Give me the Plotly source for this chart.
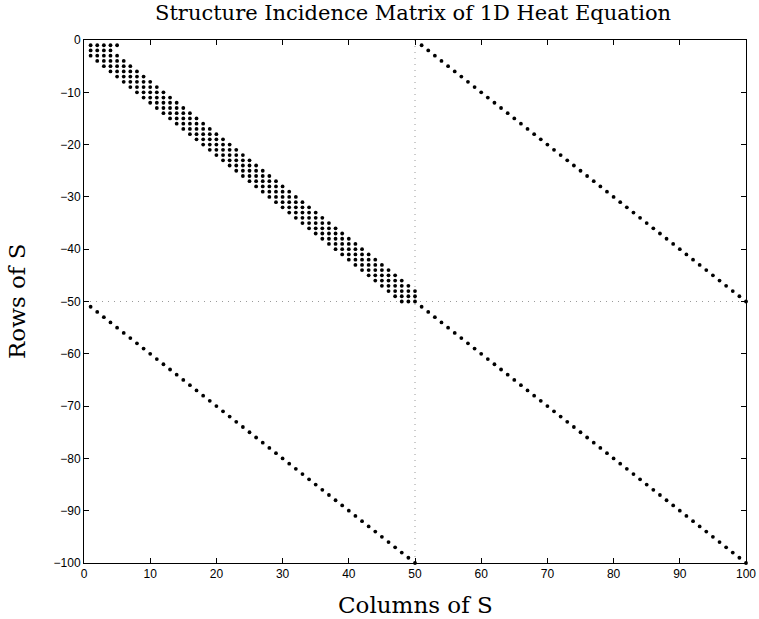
import plotly.graph_objects as go

# Band block (rows 1..50): first and last nonzero column in each row
band_first = [1, 1, 1, 2, 3, 4, 5, 6, 7, 8, 9, 10, 11, 12, 13, 14, 15, 16, 17, 18,
              19, 20, 21, 22, 23, 24, 25, 26, 27, 28, 29, 30, 31, 32, 33, 34, 35, 36, 37, 38,
              39, 40, 41, 42, 43, 44, 45, 46, 47, 48]
band_last = [5, 4, 5, 6, 7, 8, 9, 10, 11, 12, 13, 14, 15, 16, 17, 18, 19, 20, 21, 22,
             23, 24, 25, 26, 27, 28, 29, 30, 31, 32, 33, 34, 35, 36, 37, 38, 39, 40, 41, 42,
             43, 44, 45, 46, 47, 48, 49, 50, 50, 50]
band_rows = list(range(1, 51))

# Diagonal coupling blocks: (first row, first column, length)
diag_blocks = [(1, 51, 50), (51, 1, 50), (51, 51, 50)]

# Partition lines
split_col = 50
split_row = 50

x_ticks = [0, 10, 20, 30, 40, 50, 60, 70, 80, 90, 100]
y_ticks = [0, -10, -20, -30, -40, -50, -60, -70, -80, -90, -100]

xs, ys = [], []
for r, a, b in zip(band_rows, band_first, band_last):
    for c in range(a, b + 1):
        xs.append(c)
        ys.append(-r)
for r0, c0, n in diag_blocks:
    for k in range(n):
        xs.append(c0 + k)
        ys.append(-(r0 + k))

dot_line = dict(color="#9a9a9a", width=1, dash="1px,5px")
fig = go.Figure()
fig.add_trace(go.Scatter(x=[split_col, split_col], y=[0, -100], mode="lines",
                         line=dot_line, hoverinfo="skip", showlegend=False))
fig.add_trace(go.Scatter(x=[0, 100], y=[-split_row, -split_row], mode="lines",
                         line=dot_line, hoverinfo="skip", showlegend=False))
fig.add_trace(go.Scatter(x=xs, y=ys, mode="markers",
                         marker=dict(color="black", size=3.8, line=dict(width=0)),
                         cliponaxis=False, showlegend=False))

axis_common = dict(showline=True, linecolor="black", linewidth=1, mirror="ticks",
                   ticks="inside", ticklen=5, tickcolor="black", showgrid=False,
                   zeroline=False, automargin=False,
                   tickfont=dict(family="Liberation Sans", size=12, color="black"))

serif = "DejaVu Serif"
fig.update_layout(
    width=759, height=619,
    margin=dict(l=84, r=13, t=40, b=56),
    paper_bgcolor="white", plot_bgcolor="white",
    xaxis=dict(range=[0, 100], tickvals=x_ticks, ticktext=[str(v) for v in x_ticks], **axis_common),
    yaxis=dict(range=[-100, 0], tickvals=y_ticks,
               ticktext=[str(v).replace("-", "\u2212") for v in y_ticks], **axis_common),
    title=dict(text="Structure Incidence Matrix of 1D Heat Equation",
               font=dict(family=serif, size=21, color="black"),
               x=0.5442, xanchor="center", y=1 - 13 / 619, yanchor="middle"),
    annotations=[
        dict(text="Columns of S", xref="paper", yref="paper", x=0.5, y=-0.08,
             xanchor="center", yanchor="middle", showarrow=False,
             font=dict(family=serif, size=23, color="black")),
        dict(text="Rows of S", xref="paper", yref="paper", x=-0.102, y=0.5,
             xanchor="center", yanchor="middle", showarrow=False, textangle=-90,
             font=dict(family=serif, size=23, color="black")),
    ],
)
fig.write_html("out.html")
